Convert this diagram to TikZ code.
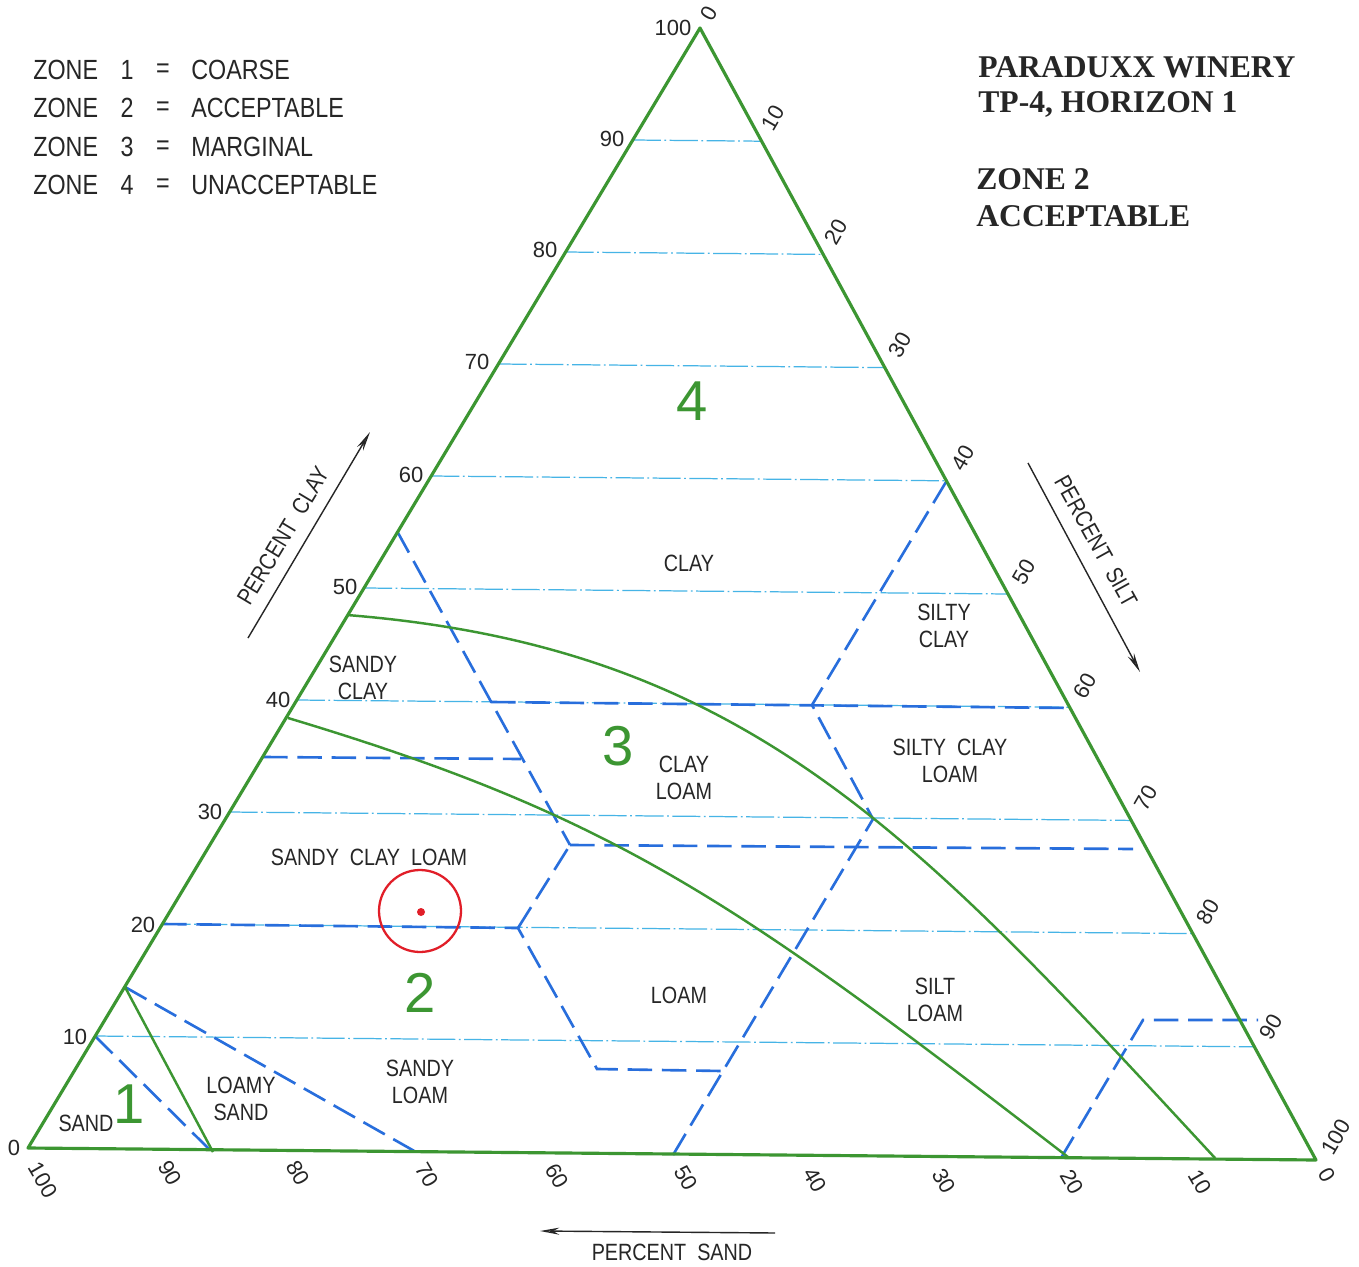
\documentclass[tikz,border=0pt]{standalone}
\usepackage{fontspec}
\setmainfont{Liberation Sans}
\newfontfamily\cadfont[FakeStretch=0.84]{Liberation Sans}
\newfontfamily\titlefont{Liberation Serif}
\usetikzlibrary{arrows.meta,calc}
\definecolor{zgreen}{RGB}{60,150,50}
\definecolor{tblue}{RGB}{40,110,220}
\definecolor{gcyan}{RGB}{70,180,230}
\definecolor{cred}{RGB}{225,30,40}
\begin{document}
\begin{tikzpicture}[x=0.02cm,y=-0.02cm,
  tri/.style={draw=zgreen,line width=1.8pt,line join=round},
  zoneline/.style={draw=zgreen,line width=1.4pt},
  texline/.style={draw=tblue,line width=1.5pt,dash pattern=on 14pt off 5.5pt},
  gridline/.style={draw=gcyan,line width=0.7pt,dash pattern=on 16pt off 2pt on 1pt off 2pt},
  lab/.style={font=\cadfont\fontsize{13.4}{15}\selectfont,align=center,inner sep=0pt,text=black!85},
  legend/.style={font=\cadfont\fontsize{15.8}{18}\selectfont,inner sep=0pt,text=black!85},
  num/.style={font=\fontsize{12.5}{14}\selectfont,inner sep=0pt,text=black!85},
  rnum/.style={num,rotate=60},
  bnum/.style={num,rotate=-60},
  znum/.style={font=\fontsize{32}{34}\selectfont,text=zgreen,inner sep=0pt},
  ttl/.style={font=\titlefont\bfseries\fontsize{18}{20}\selectfont,anchor=west,inner sep=0pt,text=black!85},
  axarrow/.style={draw=black!85,line width=0.8pt},
]
\useasboundingbox (0,0) rectangle (1359,1267);
\fill[white] (0,0) rectangle (1359,1267);

% corners
\coordinate (BL) at (28,1148);
\coordinate (T) at (700,28);
\coordinate (BR) at (1316,1160);

% grid lines (percent clay)
\foreach \c in {10,20,...,90}
  \draw[gridline] ($(BL)!{\c/100}!(T)$) -- ($(BR)!{\c/100}!(T)$);

% texture class boundary points
\coordinate (c10L) at (95,1036);
\coordinate (s85) at (210,1150);
\coordinate (c15L) at (125,987);
\coordinate (z1b) at (213,1152);
\coordinate (s70) at (416,1152);
\coordinate (c20L) at (162,924);
\coordinate (p1) at (518,928);
\coordinate (p2) at (597,1069);
\coordinate (p3) at (722,1071);
\coordinate (s50) at (673,1155);
\coordinate (p4) at (873,819);
\coordinate (p5) at (570,845);
\coordinate (c27R) at (1133,849);
\coordinate (c55L) at (397,531);
\coordinate (p6) at (521,759);
\coordinate (c35L) at (263,757);
\coordinate (p7) at (491,702);
\coordinate (p8) at (812,705);
\coordinate (c40R) at (1070,708);
\coordinate (c60R) at (946,482);
\coordinate (p9) at (1061,1158);
\coordinate (p10) at (1143,1020);
\coordinate (p11) at (1258,1020);

% texture class boundaries (dashed)
\draw[texline] (c10L) -- (s85);
\draw[texline] (c15L) -- (s70);
\draw[texline] (c20L) -- (p1) -- (p2) -- (p3);
\draw[texline] (s50) -- (p4);
\draw[texline] (p1) -- (p5);
\draw[texline] (c55L) -- (p5);
\draw[texline] (c35L) -- (p6);
\draw[texline] (p5) -- (c27R);
\draw[texline] (p7) -- (c40R);
\draw[texline] (c60R) -- (p8) -- (p4);
\draw[texline] (p9) -- (p10) -- (p11);

% zone boundaries (green)
\coordinate (z23a) at (288,718);
\coordinate (z23b) at (1068,1157);
\coordinate (z34a) at (347,615);
\coordinate (z34b) at (1215,1158);
\draw[zoneline] (c15L) -- (z1b);
\draw[zoneline] (z23a) .. controls (618,817) and (738,903) .. (z23b);
\draw[zoneline] (z34a) .. controls (747,647) and (915,834) .. (z34b);

% triangle
\draw[tri] (BL) -- (T) -- (BR) -- cycle;

% left axis numbers (percent clay)
\node[num] (l0) at (14,1148) {0};
\node[num] (l10) at (75,1037) {10};
\node[num] (l20) at (143,925) {20};
\node[num] (l30) at (210,812) {30};
\node[num] (l40) at (278,700) {40};
\node[num] (l50) at (345,587) {50};
\node[num] (l60) at (411,475) {60};
\node[num] (l70) at (477,362) {70};
\node[num] (l80) at (545,250) {80};
\node[num] (l90) at (612,139) {90};
\node[num] (l100) at (673,28) {100};

% right axis numbers (percent silt)
\node[rnum] (r0) at (709,13) {0};
\node[rnum] (r10) at (773,118) {10};
\node[rnum] (r20) at (836,232) {20};
\node[rnum] (r30) at (900,345) {30};
\node[rnum] (r40) at (963,458) {40};
\node[rnum] (r50) at (1024,572) {50};
\node[rnum] (r60) at (1085,686) {60};
\node[rnum] (r70) at (1146,798) {70};
\node[rnum] (r80) at (1208,912) {80};
\node[rnum] (r90) at (1271,1027) {90};
\node[rnum] (r100) at (1336,1137) {100};

% bottom axis numbers (percent sand)
\node[bnum] (b100) at (43,1180) {100};
\node[bnum] (b90) at (170,1173) {90};
\node[bnum] (b80) at (298,1173) {80};
\node[bnum] (b70) at (427,1175) {70};
\node[bnum] (b60) at (557,1176) {60};
\node[bnum] (b50) at (686,1178) {50};
\node[bnum] (b40) at (815,1180) {40};
\node[bnum] (b30) at (944,1181) {30};
\node[bnum] (b20) at (1072,1182) {20};
\node[bnum] (b10) at (1200,1182) {10};
\node[bnum] (b0) at (1327,1175) {0};

% axis titles with arrows
\coordinate (sandA) at (775,1233);
\coordinate (sandB) at (540,1231);
\draw[axarrow,-{Stealth[open,length=11pt,width=4pt]}] (sandA) -- (sandB);
\node[lab] (psand) at (672,1252) {PERCENT\ \ SAND};
\coordinate (clayA) at (248,638);
\coordinate (clayB) at (370,432);
\draw[axarrow,-{Stealth[length=11pt,width=4pt,fill=black!55]}] (clayA) -- (clayB);
\node[lab,rotate=59] (pclay) at (283,536) {PERCENT\ \ CLAY};
\coordinate (siltA) at (1028,463);
\coordinate (siltB) at (1140,672);
\draw[axarrow,-{Stealth[length=11pt,width=4pt,fill=black!55]}] (siltA) -- (siltB);
\node[lab,rotate=-61] (psilt) at (1096,541) {PERCENT\ \ SILT};

% texture labels
\node[lab] (tclay) at (689,563) {CLAY};
\node[lab] (tsiltyclay) at (944,626) {SILTY\\CLAY};
\node[lab] (tsandyclay) at (363,678) {SANDY\\CLAY};
\node[lab] (tclayloam) at (684,778) {CLAY\\LOAM};
\node[lab] (tsclayloam) at (950,761) {SILTY\ \ CLAY\\LOAM};
\node[lab] (tsandyclayloam) at (369,857) {SANDY\ \ CLAY\ \ LOAM};
\node[lab] (tloam) at (679,995) {LOAM};
\node[lab] (tsiltloam) at (935,1000) {SILT\\LOAM};
\node[lab] (tsandyloam) at (420,1082) {SANDY\\LOAM};
\node[lab] (tloamysand) at (241,1099) {LOAMY\\SAND};
\node[lab] (tsand) at (86,1123) {SAND};

% zone numbers
\node[znum] (z4) at (692,401) {4};
\node[znum] (z3) at (618,746) {3};
\node[znum] (z2) at (420,993) {2};
\node[znum] (z1) at (129,1104) {1};

% sample point
\coordinate (sample) at (421,912);
\draw[cred,line width=1.3pt] (420,911) circle[radius=0.82cm];
\fill[cred] (sample) circle[radius=0.08cm];

% legend
\foreach \n/\w/\y in {1/COARSE/70,2/ACCEPTABLE/108,3/MARGINAL/147,4/UNACCEPTABLE/185}{
  \node[legend,anchor=west] (lz\n) at (33,\y) {ZONE};
  \node[legend] (ln\n) at (127,\y) {\n};
  \node[legend] (le\n) at (163,\y+1) {=};
  \node[legend,anchor=west] (lw\n) at (191,\y) {\w};
}

% title
\node[ttl] (t1) at (978,67) {PARADUXX WINERY};
\node[ttl] (t2) at (978,104) {TP-4, HORIZON 1};
\node[ttl] (t3) at (976,179) {ZONE 2};
\node[ttl] (t4) at (976,216) {ACCEPTABLE};
\end{tikzpicture}
\end{document}
